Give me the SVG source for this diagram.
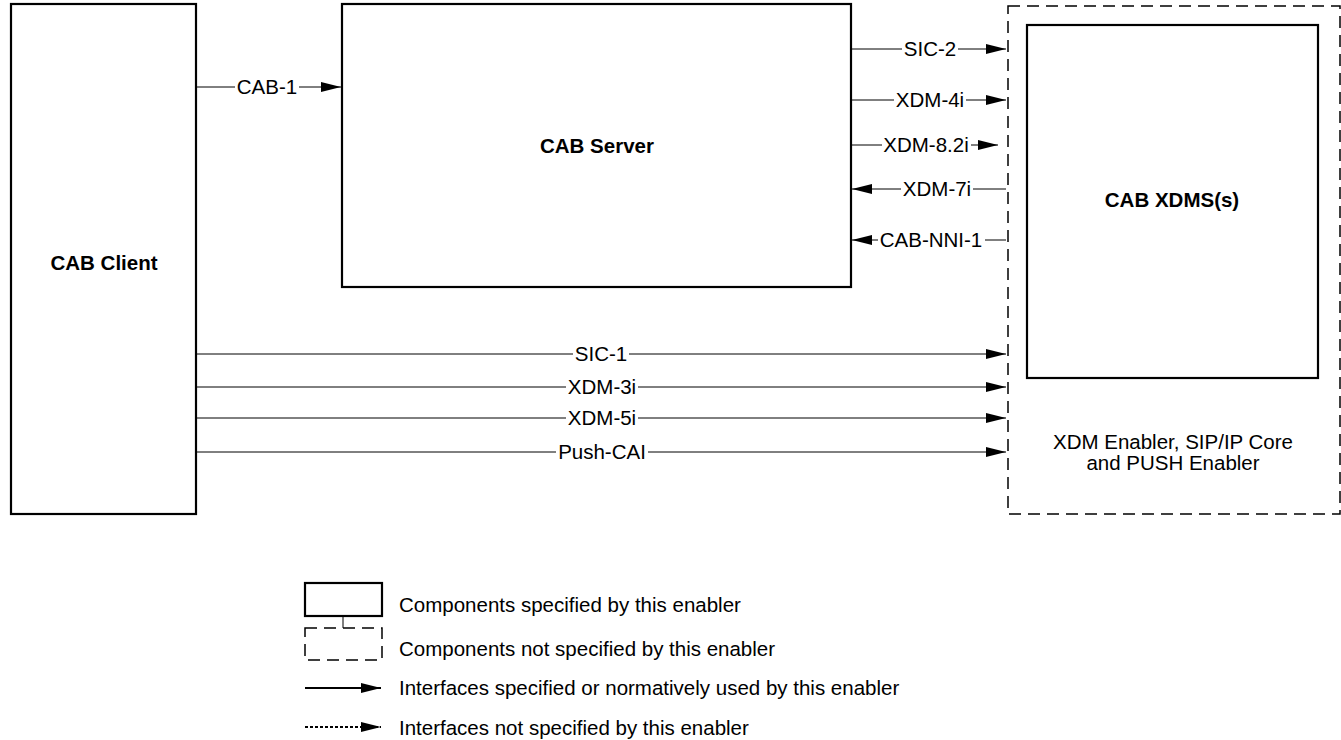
<svg xmlns="http://www.w3.org/2000/svg" width="1341" height="740" viewBox="0 0 1341 740">
<style>
text{font-family:"Liberation Sans",Arial,sans-serif;font-size:20.5px;fill:#000}
.b{font-weight:bold}
.box{fill:#fff;stroke:#000;stroke-width:2.2}
.dbox{fill:none;stroke:#000;stroke-width:1.5;stroke-dasharray:12,7}
.ln{stroke:#000;stroke-width:1;fill:none}
.lbl{text-anchor:middle}
.bg{fill:#fff;stroke:none}
</style>
<defs>
<marker id="ah" markerUnits="userSpaceOnUse" markerWidth="20" markerHeight="10" refX="20" refY="5" orient="auto">
<path d="M0,0 L20,5 L0,10 z" fill="#000"/>
</marker>
</defs>
<rect width="1341" height="740" fill="#fff"/>
<g id="xdm-enabler">
<rect class="dbox" x="1008" y="6" width="332" height="508"/>
<text x="1173" y="449" text-anchor="middle">XDM Enabler, SIP/IP Core</text>
<text x="1173" y="470" text-anchor="middle">and PUSH Enabler</text>
</g>
<g id="cab-client">
<rect class="box" x="11" y="4" width="185" height="510"/>
<text class="b" x="104" y="270" text-anchor="middle">CAB Client</text>
</g>
<g id="cab-server">
<rect class="box" x="342" y="4" width="509" height="283"/>
<text class="b" x="597" y="153" text-anchor="middle">CAB Server</text>
</g>
<g id="cab-xdms">
<rect class="box" x="1027" y="25" width="291" height="353" stroke-width="1.6"/>
<text class="b" x="1172" y="207" text-anchor="middle">CAB XDMS(s)</text>
</g>
<g id="connectors">
<line class="ln" x1="197" y1="87" x2="341" y2="87" marker-end="url(#ah)"/>
<rect class="bg" x="235" y="79" width="64" height="16"/>
<text class="lbl" x="267" y="94">CAB-1</text>
<line class="ln" x1="852" y1="49" x2="1006" y2="49" marker-end="url(#ah)"/>
<rect class="bg" x="902" y="41" width="56" height="16"/>
<text class="lbl" x="930" y="56">SIC-2</text>
<line class="ln" x1="852" y1="100" x2="1006" y2="100" marker-end="url(#ah)"/>
<rect class="bg" x="894" y="92" width="72" height="16"/>
<text class="lbl" x="930" y="107">XDM-4i</text>
<line class="ln" x1="852" y1="145" x2="998" y2="145" marker-end="url(#ah)"/>
<rect class="bg" x="882" y="137" width="89" height="16"/>
<text class="lbl" x="926" y="152">XDM-8.2i</text>
<line class="ln" x1="1006" y1="189" x2="852" y2="189" marker-end="url(#ah)"/>
<rect class="bg" x="901" y="181" width="72" height="16"/>
<text class="lbl" x="937" y="196">XDM-7i</text>
<line class="ln" x1="1006" y1="240" x2="852" y2="240" marker-end="url(#ah)"/>
<rect class="bg" x="878" y="232" width="107" height="16"/>
<text class="lbl" x="931" y="247">CAB-NNI-1</text>
<line class="ln" x1="197" y1="354" x2="1006" y2="354" marker-end="url(#ah)"/>
<rect class="bg" x="573" y="346" width="56" height="16"/>
<text class="lbl" x="601" y="361">SIC-1</text>
<line class="ln" x1="197" y1="387" x2="1006" y2="387" marker-end="url(#ah)"/>
<rect class="bg" x="566" y="379" width="72" height="16"/>
<text class="lbl" x="602" y="394">XDM-3i</text>
<line class="ln" x1="197" y1="418" x2="1006" y2="418" marker-end="url(#ah)"/>
<rect class="bg" x="566" y="410" width="72" height="16"/>
<text class="lbl" x="602" y="425">XDM-5i</text>
<line class="ln" x1="197" y1="452" x2="1006" y2="452" marker-end="url(#ah)"/>
<rect class="bg" x="556" y="444" width="92" height="16"/>
<text class="lbl" x="602" y="459">Push-CAI</text>
</g>
<g id="legend">
<rect class="box" x="305" y="583" width="77" height="33"/>
<line class="ln" x1="343" y1="617" x2="343" y2="628"/>
<rect class="dbox" x="305" y="628" width="77" height="32"/>
<text x="399" y="612">Components specified by this enabler</text>
<text x="399" y="656">Components not specified by this enabler</text>
<line x1="305" y1="688" x2="381" y2="688" stroke="#000" stroke-width="2" marker-end="url(#ah)"/>
<text x="399" y="695">Interfaces specified or normatively used by this enabler</text>
<line x1="305" y1="727" x2="381" y2="727" stroke="#000" stroke-width="2" stroke-dasharray="3,2" marker-end="url(#ah)"/>
<text x="399" y="735">Interfaces not specified by this enabler</text>
</g>
</svg>
